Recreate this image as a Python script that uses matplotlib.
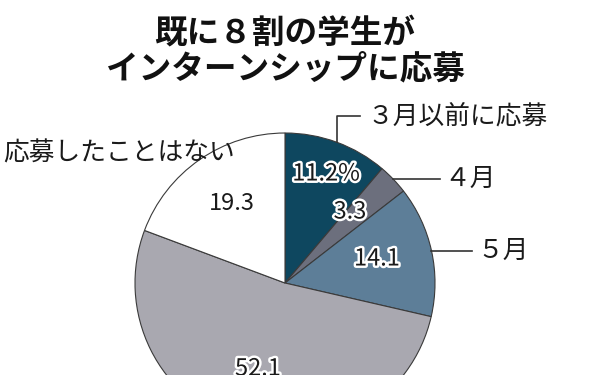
import matplotlib
matplotlib.use("Agg")
import matplotlib.pyplot as plt
import matplotlib.patheffects as pe
import numpy as np

plt.rcParams['font.family'] = ['Noto Sans CJK JP', 'DejaVu Sans']

# data
labels = ['３月以前に応募', '４月', '５月', '', '応募したことはない']
values = [11.2, 3.3, 14.1, 52.1, 19.3]
value_text = ['11.2%', '3.3', '14.1', '52.1', '19.3']
colors = ['#0e475f', '#6c6f7d', '#5d7e98', '#a9a8b0', '#ffffff']
title = '既に８割の学生が\nインターンシップに応募'

fig = plt.figure(figsize=(6, 3.75), dpi=100)
fig.patch.set_facecolor('white')

# pie centre ~ (285, 283) px, radius ~150 px, cut off by the bottom edge
ax = fig.add_axes([0.225, -0.1547, 0.5, 0.8])
wedges, _ = ax.pie(values, colors=colors, startangle=90, counterclock=False,
                   wedgeprops=dict(edgecolor='#3a3a3a', linewidth=0.8))
ax.set_xlim(-1, 1)
ax.set_ylim(-1, 1)
ax.set_aspect('equal')
ax.axis('off')

def px(x, y):
    # pixel position in the picture -> data coords of the pie axes
    return (x - 285) / 150.0, (283 - y) / 150.0

# numbers inside the slices
num_pos = [(326, 174), (350, 212), (377, 259), (258, 369), (232, 203)]
for i, t in enumerate(value_text):
    x, y = px(*num_pos[i])
    txt = ax.text(x, y, t, ha='center', va='center', fontsize=17,
                  color='#1a1a1a', clip_on=False)
    if i != 4:
        txt.set_path_effects([pe.withStroke(linewidth=3.5, foreground='white')])

# leader lines from the middle of each small wedge
def mid_point(w):
    a = np.deg2rad((w.theta1 + w.theta2) / 2)
    return np.cos(a), np.sin(a)

lc = '#333333'
fs = 18.5
x0, y0 = mid_point(wedges[0])
xt, yt = px(360, 116)
ax.plot([x0, x0, xt], [y0, yt, yt], color=lc, lw=1.2, clip_on=False)
ax.text(px(367, 0)[0], yt, labels[0], ha='left', va='center', fontsize=fs,
        color='#1a1a1a')

x1, y1 = mid_point(wedges[1])
xe, _ = px(440, 0)
ax.plot([x1, xe], [y1, y1], color=lc, lw=1.2, clip_on=False)
ax.text(px(444, 0)[0], y1, labels[1], ha='left', va='center', fontsize=fs,
        color='#1a1a1a')

x2, y2 = mid_point(wedges[2])
xe, _ = px(472, 0)
ax.plot([x2, xe], [y2, y2], color=lc, lw=1.2, clip_on=False)
ax.text(px(477, 0)[0], y2, labels[2], ha='left', va='center', fontsize=fs,
        color='#1a1a1a')

lx, ly = px(3, 153)
ax.text(lx, ly, labels[4], ha='left', va='center', fontsize=fs, color='#1a1a1a')

fig.text(285 / 600, 1 - 51 / 375, title, ha='center', va='center', fontsize=23.5,
         fontweight='bold', color='#111111', linespacing=1.1)

fig.savefig('out.png', dpi=100, facecolor='white')
